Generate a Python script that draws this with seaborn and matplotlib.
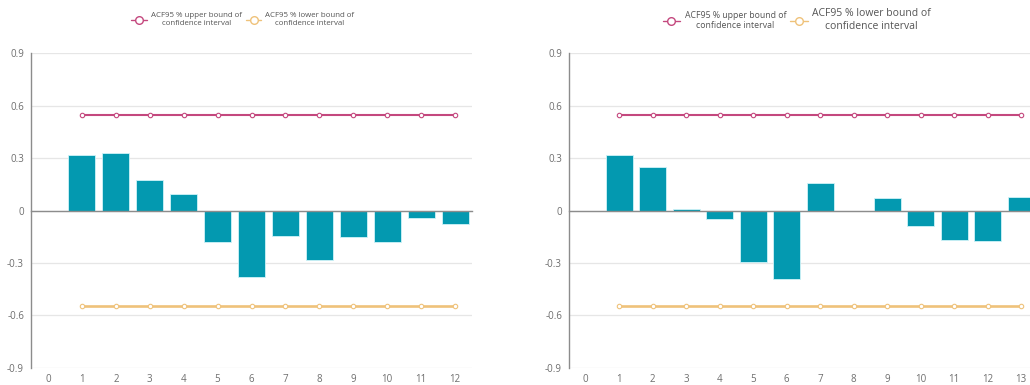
import numpy as np
import pandas as pd
import matplotlib
matplotlib.use("Agg")
import matplotlib.pyplot as plt
from matplotlib.lines import Line2D
import seaborn as sns

# Autocorrelation by lag for the two series
lags_a = [1, 2, 3, 4, 5, 6, 7, 8, 9, 10, 11, 12]
acf_a = [0.32, 0.33, 0.176, 0.092, -0.178, -0.382, -0.143, -0.28, -0.153, -0.178, -0.04, -0.075]
upper_a = [0.545] * 12
lower_a = [-0.547] * 12

lags_b = [1, 2, 3, 4, 5, 6, 7, 8, 9, 10, 11, 12, 13]
acf_b = [0.32, 0.248, 0.01, -0.046, -0.296, -0.392, 0.159, 0.0, 0.07, -0.086, -0.166, -0.176, 0.076]
upper_b = [0.545] * 13
lower_b = [-0.547] * 13

y_ticks = [-0.9, -0.6, -0.3, 0, 0.3, 0.6, 0.9]
y_labels = ["-0.9", "-0.6", "-0.3", "0", "0.3", "0.6", "0.9"]

label_up = "ACF95 % upper bound of\nconfidence interval"
label_lo = "ACF95 % lower bound of\nconfidence interval"

BAR = "#0399B0"
UP = "#C4487E"
LO = "#EFC27A"
GRID = "#E6E6E6"
AXIS = "#8C8C8C"
TXT = "#6E6E6E"

sns.set_theme(style="white")
plt.rcParams["font.family"] = ["Open Sans", "DejaVu Sans"]

fig = plt.figure(figsize=(10.3, 3.85), dpi=100)
ax_a = fig.add_axes([0.0301, 0.0442, 0.4282, 0.818])
ax_b = fig.add_axes([0.5524, 0.0442, 0.4553, 0.818])


def draw(ax, lags, acf, upper, lower, legend_sizes, legend_x):
    n = max(lags) + 1
    order = list(range(n))
    df = pd.DataFrame({"lag": lags, "acf": acf, "upper": upper, "lower": lower})
    sns.barplot(data=df, x="lag", y="acf", order=order, color=BAR, width=0.8,
                saturation=1, edgecolor="#CFF3F8", linewidth=0.6, ax=ax, zorder=3)
    sns.lineplot(data=df, x="lag", y="upper", color=UP, lw=1.5, marker="o",
                 markersize=3.2, markerfacecolor="white", markeredgecolor=UP,
                 markeredgewidth=0.8, ax=ax, zorder=4)
    sns.lineplot(data=df, x="lag", y="lower", color=LO, lw=1.9, marker="o",
                 markersize=3.2, markerfacecolor="white", markeredgecolor=LO,
                 markeredgewidth=0.8, ax=ax, zorder=4)

    ax.set_xlim(-0.5, n - 0.5)
    ax.set_ylim(-0.9, 0.9)
    ax.set_xlabel("")
    ax.set_ylabel("")

    # horizontal grid
    ax.set_yticks(y_ticks)
    ax.set_yticklabels(y_labels, color=TXT, fontsize=7)
    ax.yaxis.grid(True, color=GRID, lw=0.9, zorder=0)
    ax.tick_params(axis="y", length=3, width=0.8, color=AXIS, pad=2)

    for s in ("top", "right"):
        ax.spines[s].set_visible(False)
    ax.spines["left"].set_color(AXIS)
    ax.spines["left"].set_linewidth(1.0)
    ax.spines["left"].set_zorder(5)

    # category axis drawn along zero, with ticks between categories
    ax.spines["bottom"].set_position(("data", 0))
    ax.spines["bottom"].set_color(AXIS)
    ax.spines["bottom"].set_linewidth(1.0)
    ax.spines["bottom"].set_zorder(3.5)
    ax.set_xticks(order)
    ax.set_xticklabels([])
    ax.tick_params(axis="x", which="major", length=0)
    ax.set_xticks(np.arange(0.5, n - 0.5, 1.0), minor=True)
    ax.tick_params(axis="x", which="minor", length=3, width=0.8, color=AXIS,
                   direction="out")

    sec = ax.secondary_xaxis(0)
    sec.set_xticks(order)
    sec.set_xticklabels([str(i) for i in order], color=TXT, fontsize=7)
    sec.tick_params(length=0, pad=4)
    sec.spines["bottom"].set_visible(False)

    handles = [
        Line2D([], [], color=UP, lw=1.0, marker="o", markersize=5.5,
               markerfacecolor="white", markeredgecolor=UP),
        Line2D([], [], color=LO, lw=1.0, marker="o", markersize=5.5,
               markerfacecolor="white", markeredgecolor=LO),
    ]
    leg = ax.legend(handles, [label_up, label_lo], ncol=2, frameon=False,
                    loc="center", bbox_to_anchor=(legend_x, 1.105),
                    handlelength=2.0, handletextpad=0.5, columnspacing=0.5,
                    fontsize=legend_sizes[0])
    for t, size in zip(leg.get_texts(), legend_sizes):
        t.set_fontsize(size)
        t.set_color("#555555")
        t.set_multialignment("center")


draw(ax_a, lags_a, acf_a, upper_a, lower_a, (5.7, 5.7), 0.48)
draw(ax_b, lags_b, acf_b, upper_b, lower_b, (6.3, 7.5), 0.486)

fig.savefig("out.png", dpi=100)
